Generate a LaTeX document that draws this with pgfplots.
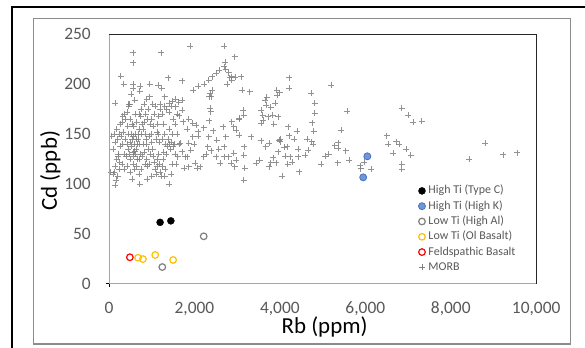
\documentclass[border=0pt]{standalone}
\usepackage{fontspec}
\setmainfont{Carlito}
\usepackage{pgfplots}
\pgfplotsset{compat=1.18}
\definecolor{tickgray}{HTML}{595959}
\definecolor{framegray}{HTML}{8C8C8C}
\definecolor{axgray}{HTML}{A6A6A6}
\definecolor{morb}{HTML}{808080}
\definecolor{bluefill}{HTML}{7196D8}
\definecolor{blueedge}{HTML}{4472C4}
\definecolor{opengray}{HTML}{7F7F7F}
\definecolor{yel}{HTML}{FFC000}
\definecolor{redc}{HTML}{FF0000}
\begin{document}
\begin{tikzpicture}
\path[use as bounding box] (-109bp,-64.3bp) rectangle (476bp,283.7bp);
\fill[white] (-109bp,-64.3bp) rectangle (476bp,283.7bp);
\draw[black, line width=2bp] (-97.3bp,-70bp) -- (-97.3bp,277bp) -- (480bp,277bp);
\draw[framegray, line width=1.2bp] (-75.6bp,-60.3bp) rectangle (461.7bp,265.4bp);
\begin{axis}[
  scale only axis, width=427.2bp, height=249.4bp,
  xmin=0, xmax=10000, ymin=0, ymax=250,
  xtick={0,2000,4000,6000,8000,10000}, ytick={0,50,100,150,200,250},
  axis line style={draw=none},
  tick style={draw=none}, major tick length=0pt,
  /pgf/number format/assume math mode=true,
  /pgf/number format/1000 sep={,},
  scaled x ticks=false,
  ticklabel style={font=\fontsize{17.5}{20}\selectfont, text=tickgray, inner sep=0pt},
  xticklabel style={yshift=-18bp},
  yticklabel style={xshift=-18bp},
  clip=false,
  legend cell align=left,
  legend style={at={(axis description cs:0.724,0.399)}, anchor=north west,
    draw=none, fill=none, inner sep=0pt, row sep=2.3bp, column sep=2.5bp,
    font=\fontsize{12}{14}\selectfont, text=tickgray,
    nodes={inner sep=0.5bp, text height=9bp, text depth=3bp}},
  mk/.style={only marks, legend image code/.code={\draw[mark repeat=2,mark phase=2,##1] plot coordinates {(0bp,0bp) (4.5bp,0bp) (9bp,0bp)};}},
]
\addplot[mk, forget plot, mark=+, mark size=3bp, draw=morb, line width=0.6bp, mark options={draw opacity=0.85}] table {
x y
558 231.6
558 221.5
1213 231.6
1902 238
2696 238
2941 227.6
271 208
340 200
558 200
558 196
733 198
951 200
1152 199
1230 196
1387 206.5
515 190
716 193
602 184
148 181
462 180
951 187.5
1300 187.5
1562 185
1475 182.7
1405 181
1710 203.5
1963 194
2085 198
2234 200
2330 204
2417 207.5
2504 211
2574 214
2696 217.6
2714 222
2731 215
2801 211.5
2871 207.5
2958 207
3089 207.5
2766 200
2871 204
2827 206.5
2365 190.8
2391 187.5
2347 187.5
2417 194
2365 176
2382 172.5
2347 163.4
2435 153.4
2330 147.4
2312 137.4
2391 133.3
2277 130
2216 127.3
2129 117.3
2024 120.6
2068 115.6
1867 117.3
1754 115.6
1780 127.3
1911 134
1998 140
2085 148
1955 147.4
1824 154.7
1737 162.4
1650 168.4
1562 177.5
1632 182
1710 184
1719 174
1867 165
1955 160.7
2042 159
2216 156.4
2085 152.4
1867 140.7
1667 140.7
1719 132.3
1606 127.3
1824 127.3
2504 127.3
2609 120.6
2696 137.4
2731 147.4
2679 157.4
2871 162.4
3045 165.7
2915 157.4
2984 154
3045 149
2976 124
2941 117.3
2854 120.6
2801 127.3
2915 130.6
2696 127.3
2565 134.7
2522 144
3045 164.7
3176 115.6
3150 104
3150 129
3159 137.4
3150 169
3133 174
3115 194
3290 192.5
3569 160.7
3569 174
3595 169
3613 164
3656 184
3691 186.8
3673 179
3787 176.8
3892 180.8
3831 168.8
3726 167.4
3953 167.4
3857 160
3944 189
3997 191.5
3927 194
3979 144
4014 142.4
4014 144.7
3752 140.7
3665 137.4
3569 143.4
3325 147.4
3438 120.6
3525 124
3743 117.3
3787 121.3
3918 121.3
3848 126.3
3962 132.3
4049 108
4198 157.4
4215 148.4
4223 206.5
4223 195.8
4092 136.7
4162 137.4
4119 128
4241 127.3
4285 121.6
4180 119.6
4459 112.3
4433 127.3
4424 135
4337 145
4398 153
4599 128.7
4669 134
4634 144.7
4773 140
4747 142.4
4791 153
4756 161.4
4817 170.8
4817 180.8
4738 190.8
4965 120
5052 128
5139 130
5192 199.2
5576 173
5437 153.7
5358 141.4
5280 138.4
5367 135.7
5541 133.3
5628 124
5349 121.3
5873 118.3
5969 121.6
6134 114.6
5890 115.3
6850 175.8
7008 168.8
7113 162
7321 163
6501 148.4
6536 140
6728 142.4
6798 140
6955 135
6649 131
7059 128.7
6850 120
6850 115
8429 124.7
8805 140.7
9232 129.3
9546 131.3
120 112
150 118
200 108
230 115
250 122
180 125
210 130
160 104
140 99
90 110
260 138
200 145
240 150
180 155
300 162
320 168
260 160
350 170
280 148
150 142
220 128
300 120
120 150
60 148
40 112
320 140
330 152
100 135
380 145
420 140
450 150
470 130
500 125
520 138
540 145
560 132
580 128
600 140
620 150
640 135
660 125
680 145
700 155
720 140
740 130
460 178
480 180
500 165
540 160
580 158
620 170
650 162
680 150
400 128
430 118
500 112
540 105
600 115
700 110
720 100
760 115
780 128
800 140
820 132
850 150
870 145
880 125
900 118
560 148
600 133
640 145
660 140
520 150
490 142
440 158
380 165
420 172
700 170
740 168
760 150
780 160
800 155
830 162
860 170
900 165
920 175
940 148
960 160
980 150
1000 142
1020 135
1040 128
1060 122
1080 115
1100 110
1120 118
1140 125
1160 130
1180 120
1200 112
1220 108
1240 118
1260 125
1280 132
1100 145
1120 152
1140 160
1160 168
1200 175
1240 170
1280 160
1300 150
1320 140
1340 130
1360 138
1380 145
1400 155
1420 140
1440 135
1460 142
1480 150
1500 138
1520 140
1300 108
1320 115
1000 165
1040 158
1060 170
1080 178
1020 180
960 130
940 120
920 135
880 140
840 120
700 125
650 118
620 130
560 120
450 135
350 130
360 115
900 105
1000 108
1150 150
1180 142
1250 145
1350 175
1400 172
1450 178
1500 165
1550 160
1600 170
1200 180
1300 178
1600 150
1650 140
1550 130
1580 120
1480 120
1450 110
1400 100
760 175
820 180
880 185
};
\addplot[mk, forget plot, mark=+, mark size=3.2bp, draw=black, line width=1bp] coordinates {(0,0)};
\addplot[mk, mark=*, mark size=3.5bp, draw=black, fill=black] coordinates {(1196,61.5) (1448,63)};
\addlegendentry{High Ti (Type C)}
\addplot[mk, mark=*, mark size=3.5bp, draw=blueedge, fill=bluefill, line width=0.8bp] coordinates {(6047,127.7) (5950,106.6)};
\addlegendentry{High Ti (High K)}
\addplot[mk, mark=o, mark size=3.3bp, draw=opengray, line width=1.2bp] coordinates {(2217,47.5) (1248,16.7)};
\addlegendentry{Low Ti (High Al)}
\addplot[mk, mark=o, mark size=3.3bp, draw=yel, line width=1.2bp] coordinates {(681,26) (794,24.7) (1082,28.8) (1501,23.8)};
\addlegendentry{Low Ti (Ol Basalt)}
\addplot[mk, mark=o, mark size=3.3bp, draw=redc, line width=1.2bp] coordinates {(489,26.5)};
\addlegendentry{Feldspathic Basalt}
\addlegendimage{mk, mark=+, mark size=3bp, draw=morb, line width=0.6bp}
\addlegendentry{MORB}
\end{axis}
\draw[axgray, line width=1bp] (0bp,249.4bp) -- (0bp,0bp) -- (427.2bp,0bp);
\draw[black!85, line width=0.8bp] (0bp,249.4bp) -- (427.2bp,249.4bp) -- (427.2bp,0bp);
\node[anchor=base, font=\fontsize{23}{26}\selectfont] at (215.6bp,-50bp) {Rb (ppm)};
\node[anchor=base, rotate=90, font=\fontsize{23}{26}\selectfont] at (-52bp,113bp) {Cd (ppb)};
\end{tikzpicture}
\end{document}
